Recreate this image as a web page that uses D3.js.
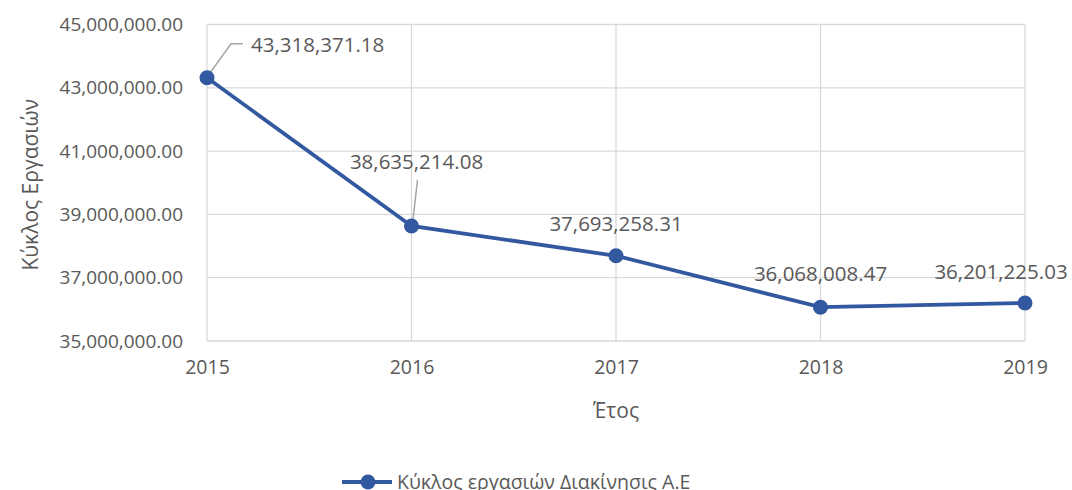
<!DOCTYPE html>
<html>
<head>
<meta charset="utf-8">
<script src="https://cdn.jsdelivr.net/npm/d3@7"></script>
<style>
  body { margin: 0; background: #fff; }
  text { font-family: "Open Sans", "Noto Sans", sans-serif; fill: #595959; }
</style>
</head>
<body>
<script>
const years = [2015, 2016, 2017, 2018, 2019];
const values = [43318371.18, 38635214.08, 37693258.31, 36068008.47, 36201225.03];
const yTicks = [35000000, 37000000, 39000000, 41000000, 43000000, 45000000];
const seriesName = "Κύκλος εργασιών Διακίνησις Α.Ε";
const xTitle = "Έτος";
const yTitle = "Κύκλος Εργασιών";

// label offsets relative to the point (dx, dy)
const labelOffsets = [[0, 0], [5, -64], [0, -32], [0, -33], [-24, -31]];

const width = 1072, height = 490;
const margin = { top: 24.5, right: 47, bottom: 149, left: 207 };
const innerWidth = width - margin.left - margin.right;
const innerHeight = height - margin.top - margin.bottom;

const fmt = d3.format(",.2f");

const svg = d3.select("body").append("svg")
    .attr("width", width)
    .attr("height", height);

const g = svg.append("g")
    .attr("transform", `translate(${margin.left},${margin.top})`);

const xScale = d3.scalePoint()
    .domain(years)
    .range([0, innerWidth]);

const yScale = d3.scaleLinear()
    .domain([35000000, 45000000])
    .range([innerHeight, 0]);

// gridlines
g.append("g")
    .selectAll("line")
    .data(yTicks)
    .join("line")
    .attr("x1", 0).attr("x2", innerWidth)
    .attr("y1", d => yScale(d)).attr("y2", d => yScale(d))
    .attr("stroke", "#d9d9d9").attr("stroke-width", 1.3);

g.append("g")
    .selectAll("line")
    .data(years)
    .join("line")
    .attr("x1", d => xScale(d)).attr("x2", d => xScale(d))
    .attr("y1", 0).attr("y2", innerHeight)
    .attr("stroke", "#d9d9d9").attr("stroke-width", 1.3);

// axes
const yAxis = d3.axisLeft(yScale).tickValues(yTicks).tickFormat(fmt).tickSize(0).tickPadding(24);
g.append("g").call(yAxis)
    .call(a => a.select(".domain").remove())
    .selectAll("text")
    .style("font-size", "19px").attr("fill", "#595959");

const xAxis = d3.axisBottom(xScale).tickSize(0).tickPadding(19);
g.append("g").attr("transform", `translate(0,${innerHeight})`).call(xAxis)
    .call(a => a.select(".domain").remove())
    .selectAll("text")
    .style("font-size", "19.5px").attr("fill", "#595959");

// axis titles
svg.append("text")
    .attr("x", margin.left + innerWidth / 2)
    .attr("y", 418)
    .attr("text-anchor", "middle")
    .style("font-size", "21px")
    .text(xTitle);

svg.append("text")
    .attr("transform", `translate(38,${margin.top + innerHeight / 2 + 2}) rotate(-90)`)
    .attr("text-anchor", "middle")
    .style("font-size", "21px")
    .text(yTitle);

// line
const data = years.map((y, i) => ({ year: y, value: values[i] }));
const lineColor = "#3258a0";

g.append("path")
    .datum(data)
    .attr("fill", "none")
    .attr("stroke", lineColor)
    .attr("stroke-width", 3.8)
    .attr("d", d3.line().x(d => xScale(d.year)).y(d => yScale(d.value)));

// leader lines for displaced labels
const x0 = xScale(years[0]), y0 = yScale(values[0]);
g.append("polyline")
    .attr("points", `${x0 + 1},${y0 - 2} ${x0 + 24},${y0 - 34} ${x0 + 36},${y0 - 34}`)
    .attr("fill", "none").attr("stroke", "#a6a6a6").attr("stroke-width", 1.5);

const x1 = xScale(years[1]), y1 = yScale(values[1]);
g.append("line")
    .attr("x1", x1 + 1).attr("y1", y1 - 2)
    .attr("x2", x1 + 6).attr("y2", y1 - 46)
    .attr("stroke", "#a6a6a6").attr("stroke-width", 1.5);

g.append("g")
    .selectAll("circle")
    .data(data)
    .join("circle")
    .attr("cx", d => xScale(d.year))
    .attr("cy", d => yScale(d.value))
    .attr("r", 7.5)
    .attr("fill", lineColor);

// data labels
g.append("g")
    .selectAll("text")
    .data(data)
    .join("text")
    .attr("x", (d, i) => i === 0 ? x0 + 44 : xScale(d.year) + labelOffsets[i][0])
    .attr("y", (d, i) => i === 0 ? y0 - 33 : yScale(d.value) + labelOffsets[i][1])
    .attr("dy", "0.35em")
    .attr("text-anchor", (d, i) => i === 0 ? "start" : "middle")
    .style("font-size", "20.5px")
    .attr("fill", "#404040")
    .text(d => fmt(d.value));

// legend
const legend = svg.append("g").attr("transform", "translate(342,482)");
legend.append("line")
    .attr("x1", 0).attr("x2", 50).attr("y1", 0).attr("y2", 0)
    .attr("stroke", lineColor).attr("stroke-width", 3.8);
legend.append("circle").attr("cx", 26).attr("cy", 0).attr("r", 7.5).attr("fill", lineColor);
legend.append("text")
    .attr("x", 55).attr("y", 0).attr("dy", "0.35em")
    .style("font-size", "19.5px")
    .text(seriesName);
</script>
</body>
</html>
